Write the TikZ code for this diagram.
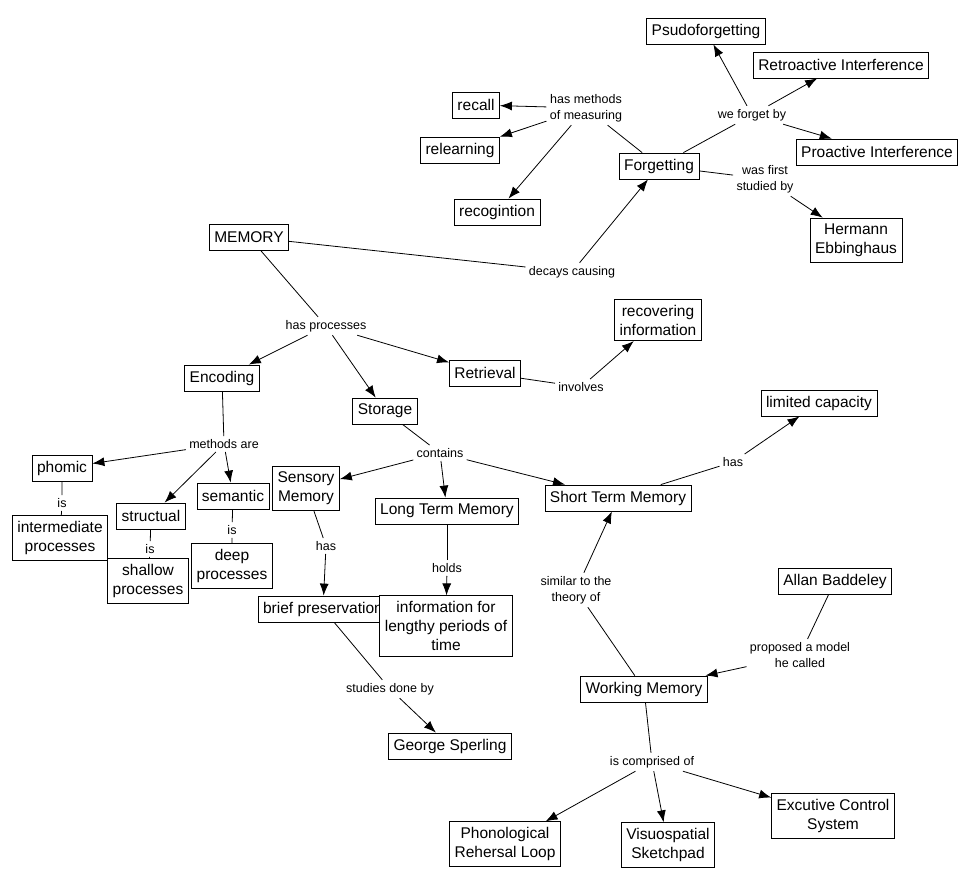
\documentclass[tikz,border=0pt]{standalone}
\usepackage{fontspec}
\setmainfont{Liberation Sans}
\usetikzlibrary{arrows.meta}

\begin{document}
\begin{tikzpicture}[x=1pt, y=-1pt, line width=0.8pt,
  >={Latex[length=12pt,width=9pt]},
  concept/.style={draw, fill=white, align=center, font=\fontsize{15.5}{19}\selectfont,
    inner xsep=5pt, inner ysep=5.5pt, minimum height=26pt},
  link/.style={align=center, font=\fontsize{12.5}{16}\selectfont, inner sep=3pt}]

\useasboundingbox (0,0) rectangle (969,888);

\node[concept] (psudo) at (706,31) {Psudoforgetting};
\node[concept] (retro) at (841,65) {Retroactive Interference};
\node[concept] (recall) at (476,105) {recall};
\node[concept] (relearn) at (460,150) {relearning};
\node[concept] (forget) at (659,166) {Forgetting};
\node[concept] (proact) at (877,152) {Proactive Interference};
\node[concept] (recog) at (497,212) {recogintion};
\node[concept] (ebbing) at (856,240) {Hermann\\Ebbinghaus};
\node[concept] (memory) at (249,237) {MEMORY};
\node[concept] (recover) at (658,320) {recovering\\information};
\node[concept] (encode) at (222,378) {Encoding};
\node[concept] (retrieve) at (485,373) {Retrieval};
\node[concept] (store) at (385,411) {Storage};
\node[concept] (limited) at (819,403) {limited capacity};
\node[concept] (phomic) at (62,468) {phomic};
\node[concept] (sensory) at (306,488) {Sensory\\Memory};
\node[concept] (semantic) at (233,496) {semantic};
\node[concept] (struct) at (151,516) {structual};
\node[concept] (stm) at (618,498) {Short Term Memory};
\node[concept] (ltm) at (447,511) {Long Term Memory};
\node[concept] (inter) at (60,538) {intermediate\\processes};
\node[concept] (deep) at (232,566) {deep\\processes};
\node[concept] (shallow) at (148,581) {shallow\\processes};
\node[concept] (baddeley) at (835,581) {Allan Baddeley};
\node[concept] (brief) at (323,609) {brief preservation};
\node[concept] (lengthy) at (446,626) {information for\\lengthy periods of\\time};
\node[concept] (working) at (644,689) {Working Memory};
\node[concept] (sperling) at (450,746) {George Sperling};
\node[concept] (excutive) at (833,816) {Excutive Control\\System};
\node[concept] (phono) at (505,844) {Phonological\\Rehersal Loop};
\node[concept] (visuo) at (668,845) {Visuospatial\\Sketchpad};

% linking phrases
\node[link] (measuring) at (586,108) {has methods\\of measuring};
\node[link] (forgetby) at (752,115) {we forget by};
\node[link] (studied) at (765,179) {was first\\studied by};
\node[link] (decays) at (572,272) {decays causing};
\node[link] (processes) at (326,326) {has processes};
\node[link] (involves) at (581,387) {involves};
\node[link] (methods) at (224,444) {methods are};
\node[link] (isphomic) at (62,503) {is};
\node[link] (isstruct) at (150,549) {is};
\node[link] (issemantic) at (232,530) {is};
\node[link] (contains) at (440,453) {contains};
\node[link] (hassensory) at (326,546) {has};
\node[link] (holds) at (447,568) {holds};
\node[link] (studies) at (390,689) {studies done by};
\node[link] (hasstm) at (733,462) {has};
\node[link] (similar) at (576,590) {similar to the\\theory of};
\node[link] (proposed) at (800,655) {proposed a model\\he called};
\node[link] (comprised) at (652,762) {is comprised of};

\draw (memory) -- (decays);
\draw [->] (decays) -- (forget);

\draw (forget) -- (measuring);
\draw [->] (measuring) -- (recall);
\draw [->] (measuring) -- (relearn);
\draw [->] (measuring) -- (recog);

\draw (forget) -- (forgetby);
\draw [->] (forgetby) -- (psudo);
\draw [->] (forgetby) -- (retro);
\draw [->] (forgetby) -- (proact);

\draw (forget) -- (studied);
\draw [->] (studied) -- (ebbing);

\draw (memory) -- (processes);
\draw [->] (processes) -- (encode);
\draw [->] (processes) -- (store);
\draw [->] (processes) -- (retrieve);

\draw (retrieve) -- (involves);
\draw [->] (involves) -- (recover);

\draw (encode) -- (methods);
\draw [->] (methods) -- (phomic);
\draw [->] (methods) -- (struct);
\draw [->] (methods) -- (semantic);

\draw (phomic) -- (isphomic) -- (inter);
\draw (struct) -- (isstruct) -- (shallow);
\draw (semantic) -- (issemantic) -- (deep);

\draw (store) -- (contains);
\draw [->] (contains) -- (sensory);
\draw [->] (contains) -- (ltm);
\draw [->] (contains) -- (stm);

\draw (sensory) -- (hassensory);
\draw [->] (hassensory) -- (brief);

\draw (ltm) -- (holds);
\draw [->] (holds) -- (lengthy);

\draw (brief) -- (studies);
\draw [->] (studies) -- (sperling);

\draw (stm) -- (hasstm);
\draw [->] (hasstm) -- (limited);

\draw (working) -- (similar);
\draw [->] (similar) -- (stm);

\draw (baddeley) -- (proposed);
\draw [->] (proposed) -- (working);

\draw (working) -- (comprised);
\draw [->] (comprised) -- (phono);
\draw [->] (comprised) -- (visuo);
\draw [->] (comprised) -- (excutive);

\end{tikzpicture}
\end{document}
